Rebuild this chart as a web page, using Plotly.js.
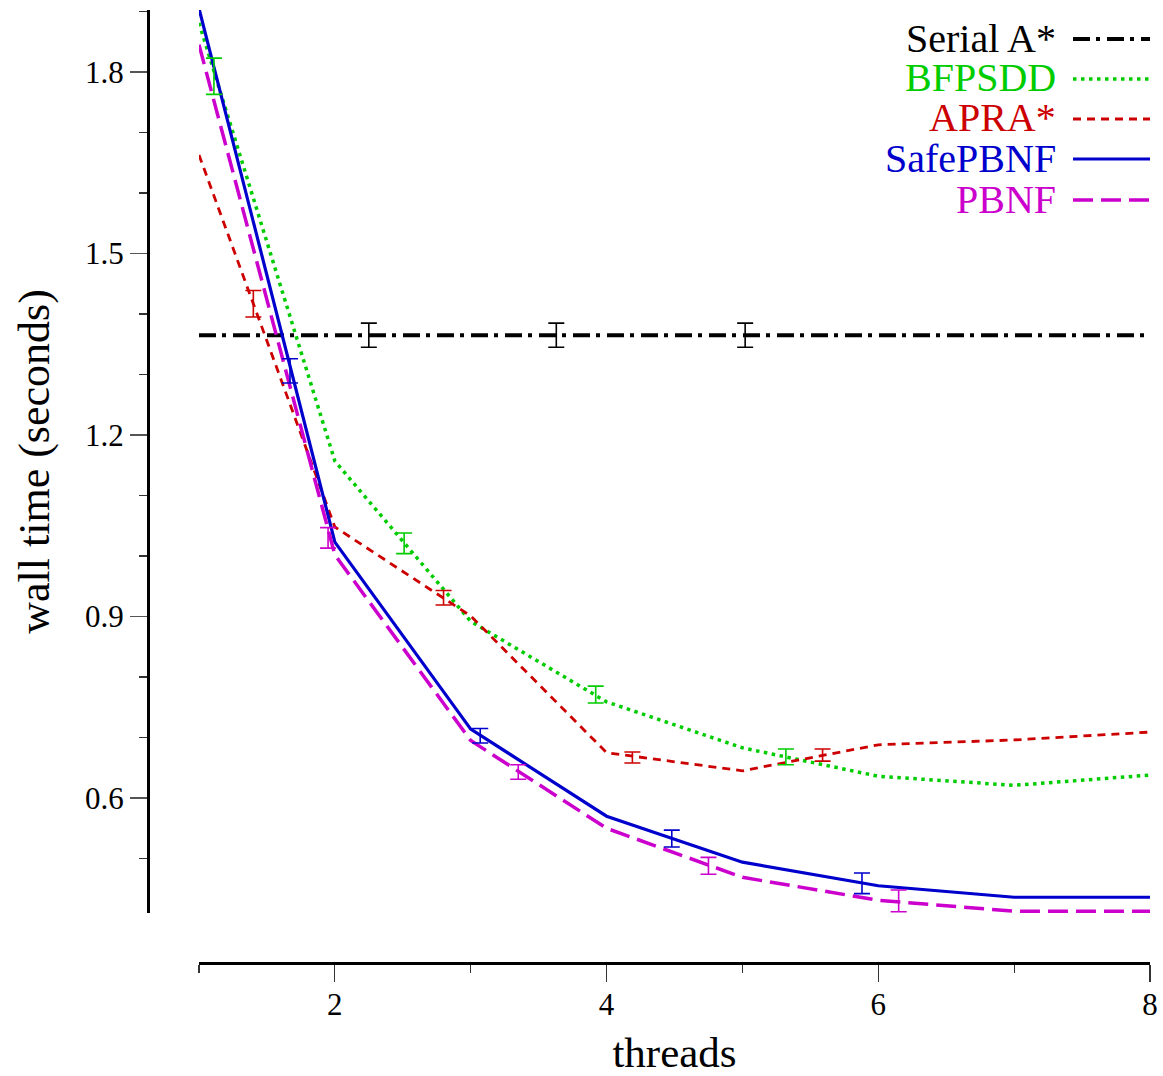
<!DOCTYPE html>
<html>
<head>
<meta charset="utf-8">
<script src="https://cdn.plot.ly/plotly-3.0.1.min.js"></script>
<style>html,body{margin:0;padding:0;background:#fff;}#chart{width:1163px;height:1076px;}</style>
</head>
<body>
<div id="chart"></div>
<script>
// ---- data ----
const threads = [1, 2, 3, 4, 5, 6, 7, 8];
const serialA = [1.365, 1.365, 1.365, 1.365, 1.365, 1.365, 1.365, 1.365];
const bfpsdd = [1.881, 1.157, 0.892, 0.759, 0.683, 0.636, 0.621, 0.638];
const apra = [1.663, 1.048, 0.901, 0.675, 0.645, 0.688, 0.696, 0.709];
const safePBNF = [1.905, 1.023, 0.714, 0.570, 0.494, 0.455, 0.436, 0.436];
const pbnf = [1.845, 1.002, 0.695, 0.550, 0.469, 0.431, 0.413, 0.413];

const serialErrX = [2.25, 3.63, 5.02];
const serialErrY = [1.365, 1.365, 1.365];
const serialErr = [0.020, 0.020, 0.020];
const bfpsddErrX = [1.11, 2.51, 3.92, 5.32];
const bfpsddErrY = [1.793, 1.021, 0.771, 0.668];
const bfpsddErr = [0.030, 0.017, 0.014, 0.013];
const apraErrX = [1.40, 2.80, 4.19, 5.59];
const apraErrY = [1.417, 0.931, 0.667, 0.671];
const apraErr = [0.022, 0.012, 0.009, 0.010];
const safeErrX = [1.67, 3.07, 4.48, 5.88];
const safeErrY = [1.306, 0.703, 0.533, 0.459];
const safeErr = [0.020, 0.012, 0.014, 0.017];
const pbnfErrX = [1.95, 3.35, 4.75, 6.15];
const pbnfErrY = [1.030, 0.643, 0.488, 0.430];
const pbnfErr = [0.017, 0.012, 0.014, 0.018];

const seriesNames = ['Serial A*', 'BFPSDD', 'APRA*', 'SafePBNF', 'PBNF'];
const xTickVals = [2, 4, 6, 8];
const xTickText = ['2', '4', '6', '8'];
const yTickVals = [0.6, 0.9, 1.2, 1.5, 1.8];
const yTickText = ['0.6', '0.9', '1.2', '1.5', '1.8'];

// ---- styles ----
const colors = ['#000000', '#00cc00', '#cc0000', '#0000cc', '#cc00cc'];
const widths = [4, 3.5, 2.8, 3.2, 3.5];
const dashes = ['17px,6px,4px,7px', '3.5px,4.5px', '8px,6px', 'solid', '20px,8px'];
const FONT = '"Liberation Serif", "DejaVu Serif", serif';

const lineData = [serialA, bfpsdd, apra, safePBNF, pbnf];
const errX = [serialErrX, bfpsddErrX, apraErrX, safeErrX, pbnfErrX];
const errY = [serialErrY, bfpsddErrY, apraErrY, safeErrY, pbnfErrY];
const errV = [serialErr, bfpsddErr, apraErr, safeErr, pbnfErr];

const traces = [];
for (let i = 0; i < 5; i++) {
  traces.push({
    x: threads, y: lineData[i], type: 'scatter', mode: 'lines', name: seriesNames[i],
    line: {color: colors[i], width: widths[i], dash: dashes[i]}, hoverinfo: 'skip'
  });
}
for (let i = 0; i < 5; i++) {
  traces.push({
    x: errX[i], y: errY[i], type: 'scatter', mode: 'markers', showlegend: false,
    marker: {size: 1, opacity: 0, color: colors[i]},
    error_y: {type: 'data', array: errV[i], visible: true, color: colors[i], thickness: 1.6, width: 8},
    hoverinfo: 'skip'
  });
}

// plot area in pixels: x 148..1150, y 10..963
const L = 148, R = 1150, T = 10, B = 963;
const px = v => (v - L) / (R - L);
const py = v => (B - v) / (B - T);

const annotations = [];
const shapes = [];
const rowY = [39, 79, 119, 159, 200];
for (let i = 0; i < 5; i++) {
  annotations.push({
    xref: 'paper', yref: 'paper', x: px(1058), y: py(rowY[i] - 1),
    xanchor: 'right', yanchor: 'middle', showarrow: false,
    text: seriesNames[i], font: {family: FONT, size: 40, color: colors[i]}
  });
  shapes.push({
    type: 'line', xref: 'paper', yref: 'paper',
    x0: px(1073), x1: px(1150), y0: py(rowY[i]), y1: py(rowY[i]),
    line: {color: colors[i], width: widths[i], dash: dashes[i]}
  });
}

const layout = {
  width: 1163, height: 1076,
  margin: {l: L, r: 1163 - R, t: T, b: 1076 - B, pad: 0},
  paper_bgcolor: '#fff', plot_bgcolor: '#fff',
  showlegend: false,
  font: {family: FONT, color: '#000'},
  xaxis: {
    domain: [(199 - L) / (R - L), 1], range: [1, 8], anchor: 'free', position: 0,
    showline: true, linewidth: 3, linecolor: '#000', showgrid: false, zeroline: false,
    ticks: 'outside', ticklen: 17, tickwidth: 1.2, tickcolor: '#333',
    tickvals: xTickVals, ticktext: xTickText, ticklabelstandoff: -4,
    tickfont: {family: FONT, size: 31, color: '#000'},
    minor: {tickvals: [1, 3, 5, 7], ticks: 'outside', ticklen: 8, tickwidth: 1.2, tickcolor: '#333', showgrid: false},
    title: {text: 'threads', font: {family: FONT, size: 43, color: '#000'}}
  },
  yaxis: {
    domain: [(B - 913) / (B - T), 1], range: [0.410, 1.9025], anchor: 'free', position: 0,
    showline: true, linewidth: 2.5, linecolor: '#000', showgrid: false, zeroline: false,
    ticks: 'outside', ticklen: 17, tickwidth: 1.2, tickcolor: '#555',
    tickvals: yTickVals, ticktext: yTickText,
    tickfont: {family: FONT, size: 31, color: '#000'},
    minor: {tickvals: [0.5, 0.7, 0.8, 1.0, 1.1, 1.3, 1.4, 1.6, 1.7, 1.9], ticks: 'outside', ticklen: 8, tickwidth: 1.2, tickcolor: '#333', showgrid: false},
    title: {text: 'wall time (seconds)', font: {family: FONT, size: 44, color: '#000'}}
  },
  annotations: annotations,
  shapes: shapes
};

Plotly.newPlot('chart', traces, layout, {displayModeBar: false, staticPlot: true});
</script>
</body>
</html>
